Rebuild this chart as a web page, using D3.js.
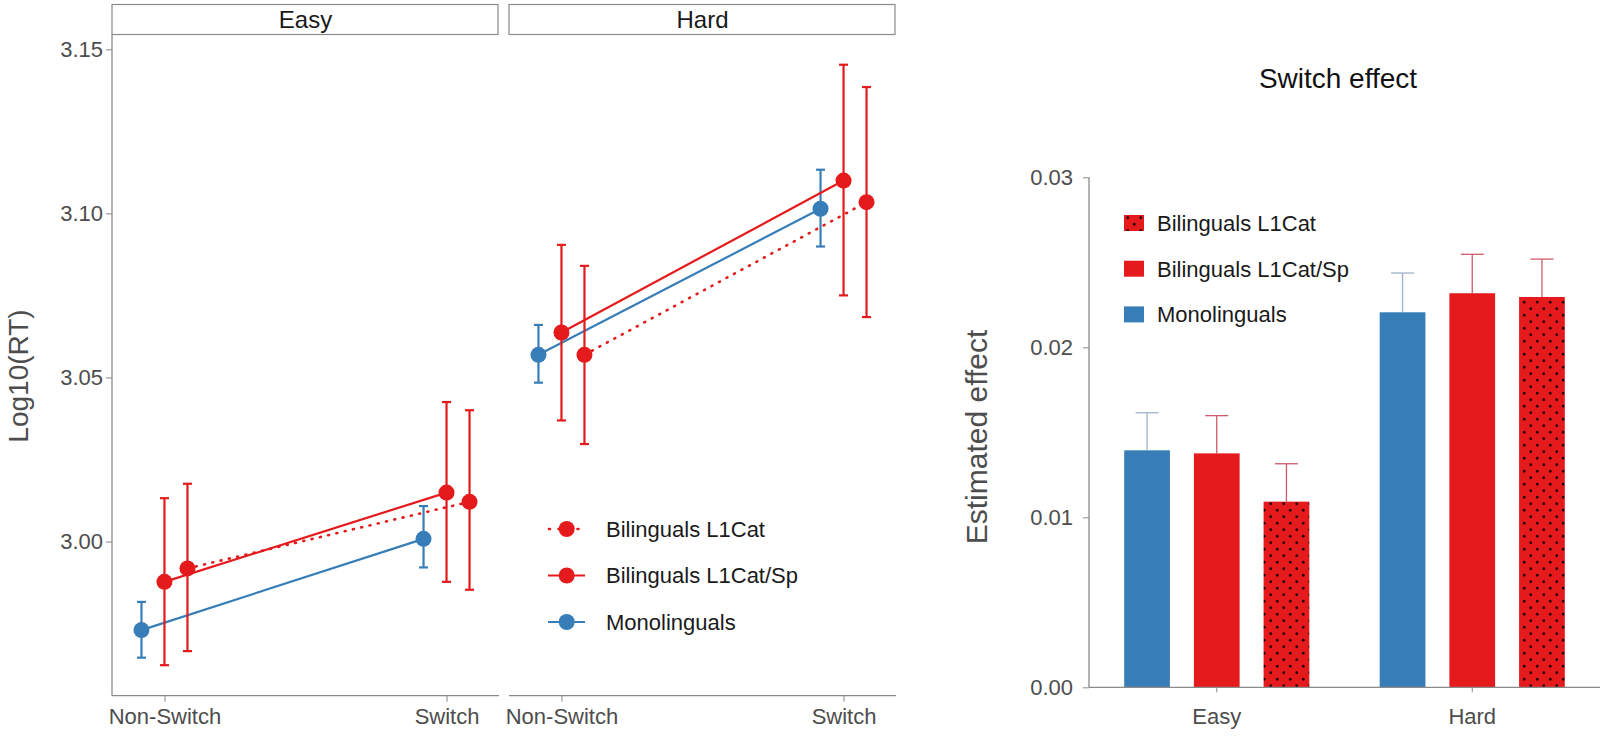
<!DOCTYPE html>
<html>
<head>
<meta charset="utf-8">
<script src="https://cdn.jsdelivr.net/npm/d3@7/dist/d3.min.js"></script>
<style>
  html, body { margin: 0; padding: 0; background: #fff; }
  svg { display: block; font-family: "Liberation Sans", Arial, sans-serif; }
</style>
</head>
<body>
<svg id="chart" width="1603" height="739"></svg>
<script>
// ---------- DATA ----------
const conditions = ["Easy", "Hard"];
const trialTypes = ["Non-Switch", "Switch"];
const groups = ["Monolinguals", "Bilinguals L1Cat/Sp", "Bilinguals L1Cat"];
const legendOrder = ["Bilinguals L1Cat", "Bilinguals L1Cat/Sp", "Monolinguals"];

// Left chart: Log10(RT) estimates [condition][trialType]
const monoMean  = [[2.9730, 3.0008], [3.0569, 3.1014]];
const monoLow   = [[2.9646, 2.9921], [3.0484, 3.0899]];
const monoHigh  = [[2.9816, 3.0108], [3.0660, 3.1133]];
const catSpMean = [[2.9877, 3.0149], [3.0637, 3.1100]];
const catSpLow  = [[2.9623, 2.9877], [3.0369, 3.0750]];
const catSpHigh = [[3.0132, 3.0425], [3.0904, 3.1453]];
const catMean   = [[2.9918, 3.0121], [3.0569, 3.1034]];
const catLow    = [[2.9666, 2.9853], [3.0297, 3.0684]];
const catHigh   = [[3.0176, 3.0400], [3.0840, 3.1385]];
const leftTicks = [3.00, 3.05, 3.10, 3.15];

// Right chart: switch effect [condition]
const effMono  = [0.01394, 0.02206];
const effCatSp = [0.01376, 0.02318];
const effCat   = [0.01092, 0.02296];
const effMonoUp  = [0.01615, 0.02437];
const effCatSpUp = [0.01598, 0.02547];
const effCatUp   = [0.01315, 0.02519];
const rightTicks = [0.00, 0.01, 0.02, 0.03];

// ---------- STYLE ----------
const BLUE = "#377EB8", RED = "#E41A1C";
const AXIS = "#8a8a8a", TICKTXT = "#4d4d4d", TXT = "#1a1a1a";
const DOTS = "1,7.5";
const seriesInfo = {
  "Monolinguals":       {mean: monoMean,  low: monoLow,  high: monoHigh,  color: BLUE, dash: null, dodge: -23},
  "Bilinguals L1Cat/Sp":{mean: catSpMean, low: catSpLow, high: catSpHigh, color: RED,  dash: null, dodge: 0},
  "Bilinguals L1Cat":   {mean: catMean,   low: catLow,   high: catHigh,   color: RED,  dash: DOTS, dodge: 23}
};

const svg = d3.select("#chart");

// pattern for dotted bars
const defs = svg.append("defs");
const pat = defs.append("pattern").attr("id", "dots").attr("patternUnits", "userSpaceOnUse")
  .attr("width", 13).attr("height", 13);
pat.append("rect").attr("width", 13).attr("height", 13).attr("fill", RED);
pat.append("circle").attr("cx", 3.25).attr("cy", 3.25).attr("r", 1.4).attr("fill", "#2a0606");
pat.append("circle").attr("cx", 9.75).attr("cy", 9.75).attr("r", 1.4).attr("fill", "#2a0606");

// ---------- LEFT CHART ----------
const panelTop = 35, panelBottom = 695.7, panelW = 387;
const panelX = [112, 509];
const yL = d3.scaleLinear().domain([3.00, 3.15]).range([541.5, 49.3]);

// y axis
const yAxisG = svg.append("g").attr("transform", `translate(${panelX[0]},0)`)
  .call(d3.axisLeft(yL).tickValues(leftTicks).tickFormat(d3.format(".2f")).tickSize(6).tickSizeOuter(0));
yAxisG.select(".domain").remove();
yAxisG.selectAll(".tick line").attr("stroke", AXIS);
yAxisG.selectAll(".tick text").attr("fill", TICKTXT).attr("font-size", 22).attr("x", -9)
  .style("font-family", "Liberation Sans, Arial, sans-serif");
svg.append("line").attr("x1", panelX[0]).attr("x2", panelX[0]).attr("y1", panelTop).attr("y2", panelBottom)
  .attr("stroke", AXIS).attr("stroke-width", 1.3);

svg.append("text").attr("transform", `translate(28,376) rotate(-90)`).attr("text-anchor", "middle")
  .attr("font-size", 28).attr("fill", TICKTXT).text("Log10(RT)");

conditions.forEach((cond, ci) => {
  const x0 = panelX[ci];
  const xS = d3.scalePoint().domain(trialTypes).range([x0, x0 + panelW]).padding(0.186);

  // strip
  svg.append("rect").attr("x", x0).attr("y", 4.5).attr("width", panelW - 1).attr("height", 30)
    .attr("fill", "#fff").attr("stroke", AXIS).attr("stroke-width", 1.2);
  svg.append("text").attr("x", x0 + panelW / 2).attr("y", 28).attr("text-anchor", "middle")
    .attr("font-size", 24).attr("fill", TXT).text(cond);

  // x axis
  const xg = svg.append("g").attr("transform", `translate(0,${panelBottom})`)
    .call(d3.axisBottom(xS).tickSize(6).tickSizeOuter(0));
  xg.select(".domain").remove();
  xg.selectAll(".tick line").attr("stroke", AXIS);
  xg.selectAll(".tick text").attr("fill", TICKTXT).attr("font-size", 22).attr("y", 13)
    .attr("dy", "0.71em").style("font-family", "Liberation Sans, Arial, sans-serif");
  svg.append("line").attr("x1", x0).attr("x2", x0 + panelW).attr("y1", panelBottom).attr("y2", panelBottom)
    .attr("stroke", AXIS).attr("stroke-width", 1.3);

  groups.forEach(g => {
    const s = seriesInfo[g];
    const pts = trialTypes.map((t, ti) => ({
      x: xS(t) + s.dodge, m: s.mean[ci][ti], lo: s.low[ci][ti], hi: s.high[ci][ti]
    }));
    const gg = svg.append("g");
    gg.append("path").attr("d", d3.line().x(d => d.x).y(d => yL(d.m))(pts))
      .attr("fill", "none").attr("stroke", s.color).attr("stroke-width", s.dash ? 2.6 : 2.2)
      .attr("stroke-dasharray", s.dash).attr("stroke-linecap", s.dash ? "round" : "butt");
    pts.forEach(p => {
      gg.append("line").attr("x1", p.x).attr("x2", p.x).attr("y1", yL(p.lo)).attr("y2", yL(p.hi))
        .attr("stroke", s.color).attr("stroke-width", 2.2);
      [p.lo, p.hi].forEach(v => gg.append("line").attr("x1", p.x - 4.5).attr("x2", p.x + 4.5)
        .attr("y1", yL(v)).attr("y2", yL(v)).attr("stroke", s.color).attr("stroke-width", 2.2));
      gg.append("circle").attr("cx", p.x).attr("cy", yL(p.m)).attr("r", 8).attr("fill", s.color);
    });
  });
});

// left legend
legendOrder.forEach((g, i) => {
  const s = seriesInfo[g];
  const cy = 529 + i * 46.5;
  svg.append("line").attr("x1", s.dash ? 549 : 548).attr("x2", 585).attr("y1", cy).attr("y2", cy)
    .attr("stroke", s.color).attr("stroke-width", s.dash ? 2.6 : 2.2).attr("stroke-dasharray", s.dash ? "1,8.5" : null)
    .attr("stroke-linecap", s.dash ? "round" : "butt");
  svg.append("circle").attr("cx", 566.7).attr("cy", cy).attr("r", 8).attr("fill", s.color);
  svg.append("text").attr("x", 606).attr("y", cy + 7.8).attr("font-size", 22).attr("fill", TXT).text(g);
});

// ---------- RIGHT CHART ----------
const rL = 1089, rR = 1600;
const yR = d3.scaleLinear().domain([0, 0.03]).range([687.3, 177.3]);
const xC = d3.scaleBand().domain(conditions).range([rL, rR]).padding(0);
const xG = d3.scaleBand().domain(groups).range([0, xC.bandwidth()]).paddingInner(0.344).paddingOuter(0.505);

const barData = {
  "Monolinguals": {v: effMono, up: effMonoUp, fill: BLUE, err: "#9fb3c8"},
  "Bilinguals L1Cat/Sp": {v: effCatSp, up: effCatSpUp, fill: RED, err: "#cf5a6a"},
  "Bilinguals L1Cat": {v: effCat, up: effCatUp, fill: "url(#dots)", err: "#cf5a6a"}
};

svg.append("text").attr("x", 1338).attr("y", 88).attr("text-anchor", "middle")
  .attr("font-size", 28).attr("fill", "#111").text("Switch effect");

const yRg = svg.append("g").attr("transform", `translate(${rL},0)`)
  .call(d3.axisLeft(yR).tickValues(rightTicks).tickFormat(d3.format(".2f")).tickSize(6).tickSizeOuter(0));
yRg.select(".domain").remove();
yRg.selectAll(".tick line").attr("stroke", AXIS);
yRg.selectAll(".tick text").attr("fill", TICKTXT).attr("font-size", 22).attr("x", -16)
  .style("font-family", "Liberation Sans, Arial, sans-serif");
svg.append("line").attr("x1", rL).attr("x2", rL).attr("y1", yR(0.03)).attr("y2", yR(0))
  .attr("stroke", AXIS).attr("stroke-width", 1.3);

svg.append("text").attr("transform", `translate(987,437) rotate(-90)`).attr("text-anchor", "middle")
  .attr("font-size", 30).attr("fill", TICKTXT).text("Estimated effect");

conditions.forEach((cond, ci) => {
  groups.forEach(g => {
    const b = barData[g];
    const x = xC(cond) + xG(g), w = xG.bandwidth(), cx = x + w / 2;
    svg.append("line").attr("x1", cx).attr("x2", cx).attr("y1", yR(b.v[ci])).attr("y2", yR(b.up[ci]))
      .attr("stroke", b.err).attr("stroke-width", 1.3);
    svg.append("line").attr("x1", cx - 11.5).attr("x2", cx + 11.5).attr("y1", yR(b.up[ci])).attr("y2", yR(b.up[ci]))
      .attr("stroke", b.err).attr("stroke-width", 1.3);
    svg.append("rect").attr("x", x).attr("y", yR(b.v[ci])).attr("width", w)
      .attr("height", yR(0) - yR(b.v[ci])).attr("fill", b.fill);
  });
});

const xRg = svg.append("g").attr("transform", `translate(0,${yR(0)})`)
  .call(d3.axisBottom(xC).tickSize(5).tickSizeOuter(0));
xRg.select(".domain").remove();
xRg.selectAll(".tick line").attr("stroke", AXIS);
xRg.selectAll(".tick text").attr("fill", TICKTXT).attr("font-size", 22).attr("y", 21)
  .attr("dy", "0.71em").style("font-family", "Liberation Sans, Arial, sans-serif");
svg.append("line").attr("x1", rL).attr("x2", rR).attr("y1", yR(0)).attr("y2", yR(0))
  .attr("stroke", AXIS).attr("stroke-width", 1.3);

// right legend
legendOrder.forEach((g, i) => {
  const b = barData[g];
  const cy = 223 + i * 45.7;
  svg.append("rect").attr("x", 1124).attr("y", cy - 8).attr("width", 20).attr("height", 16).attr("fill", b.fill);
  svg.append("text").attr("x", 1157).attr("y", cy + 7.8).attr("font-size", 22).attr("fill", TXT).text(g);
});
</script>
</body>
</html>
